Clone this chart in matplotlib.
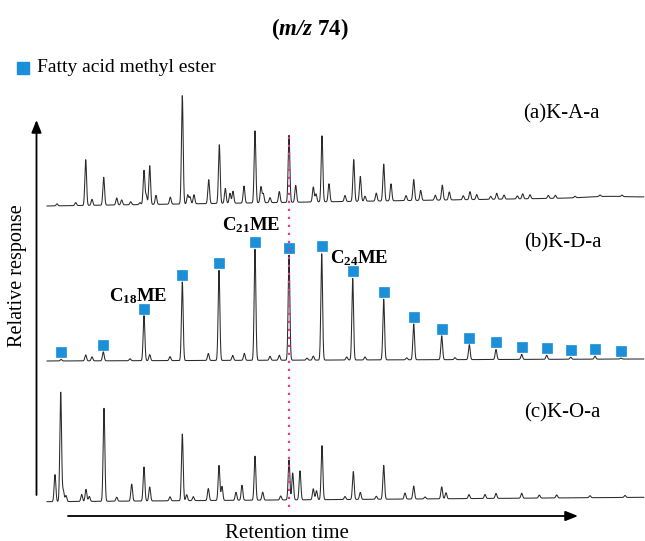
import numpy as np
import matplotlib
matplotlib.use("Agg")
import matplotlib.pyplot as plt

plt.rcParams['font.family'] = ['Liberation Serif', 'DejaVu Serif']
plt.rcParams['mathtext.fontset'] = 'custom'
plt.rcParams['mathtext.rm'] = 'Liberation Serif'
plt.rcParams['mathtext.it'] = 'Liberation Serif:italic'
plt.rcParams['mathtext.bf'] = 'Liberation Serif:bold'
plt.rcParams['mathtext.bfit'] = 'Liberation Serif:italic:bold'

# ---------------- data (retention in arbitrary units, heights in relative response) -------------
# (a) K-A-a
a_rt = [57, 75.7, 85.7, 92, 103.7, 116.7, 121.7, 130.7, 140, 144, 146.3, 149.7, 156, 170.3,
        182.3, 187.7, 190, 194, 208.7, 219.3, 225.3, 230, 233, 244, 255, 261, 263.3, 270,
        279.3, 289, 295.7, 313.3, 316, 322, 329, 345, 353.7, 360.3, 365, 376.3, 383.7, 391,
        406, 413.7, 420.7, 435.3, 442.3, 449.3, 463.3, 470, 476.7, 490.7, 496.7, 504, 517.3,
        522.7, 530, 548.3, 555.3, 575, 600, 622]
a_h = [2, 3, 46, 6, 28, 7, 5, 3, 2, 34, 9, 39, 9, 7,
       109, 9, 7, 9, 24, 59, 15, 10, 12, 17, 72, 16, 9, 5,
       11, 67, 17, 15, 8, 66, 18, 6, 42, 25, 5, 8, 37, 17,
       5, 21, 10, 5, 15, 8, 4, 8, 5, 3, 6, 4, 3,
       5, 4, 3, 3, 1.5, 1.5, 1.5]

# (b) K-D-a : fatty acid methyl esters C16 ... C34
fame_carbon = list(range(16, 35))
fame_rt = [61, 103.3, 144, 182.3, 219, 255, 289, 321.7, 352.7, 383.7, 413.7, 441.7, 469.3,
           496, 521.7, 546.7, 570.7, 595, 621]
fame_h = [1.5, 9, 45, 79, 90, 111, 105, 107, 82, 61, 36, 24, 15, 10, 5, 4, 2, 3, 1]
b_other_rt = [85.7, 92, 130, 149.7, 170, 208.3, 232.7, 244.3, 270, 279.3, 307, 313.3, 346.7,
              365, 406.7, 455]
b_other_h = [6, 4, 2, 6, 4, 7, 5, 7, 4, 5, 2, 4, 3, 3, 2, 2]

# (c) K-O-a
c_rt = [55, 60.7, 63.3, 66, 81.7, 86, 89.3, 104, 116.7, 131.7, 144, 149.7, 170, 182.3, 186.7,
        193.3, 208.3, 219, 222, 236, 242, 255, 262.7, 280.7, 289, 292.7, 300, 313.3, 316.5,
        322, 345, 353.3, 360.3, 376.3, 383.7, 405, 413.7, 425, 441.7, 446, 469, 485, 496,
        521.7, 539.3, 556.7, 590, 625]
c_h = [27, 110, 11, 6, 7, 12, 5, 93, 4, 17, 34, 14, 4, 67, 6,
       4, 12, 35, 14, 8, 15, 44, 8, 4, 40, 27, 29, 11, 9,
       54, 3, 28, 7, 3, 34, 6, 13, 2, 12, 6, 4, 4, 5,
       5, 3, 3, 2, 2]

# trace layout: baseline offset at start / end of run (drift)
rt_start, rt_end = 47, 644
offsets = {'a': (335, 344), 'b': (180, 182), 'c': (39.3, 43.7)}
labels = {'a': '(a)K-A-a', 'b': '(b)K-D-a', 'c': '(c)K-O-a'}
ref_rt = 289  # C22 ME, dotted reference line

# ---------------- figure -------------
W, H = 645, 541
fig = plt.figure(figsize=(W / 100, H / 100), dpi=100)
ax = fig.add_axes([0, 0, 1, 1])
ax.set_xlim(0, W)
ax.set_ylim(0, H)
ax.axis('off')

x = np.arange(rt_start, rt_end, 0.2)
sig = 0.85


def trace(rts, hs):
    y = np.zeros_like(x)
    for p, h in zip(rts, hs):
        y += h * np.exp(-0.5 * ((x - p) / sig) ** 2)
    return y


def base(key):
    o0, o1 = offsets[key]
    return o0 + (o1 - o0) * (x - rt_start) / (rt_end - rt_start)


line_kw = dict(color='#2a2a2a', lw=0.75)
ya = trace(a_rt, a_h) + 1.2 * np.exp(-0.5 * ((x - 605) / 18) ** 2)
ax.plot(x, base('a') + ya, **line_kw)
yb = trace(fame_rt + b_other_rt, fame_h + b_other_h)
ax.plot(x, base('b') + yb, **line_kw)
yc = trace(c_rt, c_h)
ax.plot(x, base('c') + yc, **line_kw)

# FAME markers
o0, o1 = offsets['b']
fr = np.array(fame_rt)
fb = o0 + (o1 - o0) * (fr - rt_start) / (rt_end - rt_start)
ax.plot(fr, fb + np.array(fame_h) + 7, ls='none', marker='s', ms=7.8,
        mfc='#1b8fd8', mec='#1b8fd8', mew=0.5, zorder=4)

# dotted reference line
ax.plot([ref_rt, ref_rt], [34, 405], color='#e8378c', lw=1.6, ls=(0, (1, 2.6)), zorder=5)

# compound labels
ax.text(138, 240, r'$\mathbf{C_{18}ME}$', ha='center', va='baseline', fontsize=13.5)
ax.text(251, 311, r'$\mathbf{C_{21}ME}$', ha='center', va='baseline', fontsize=13.5)
ax.text(359, 278, r'$\mathbf{C_{24}ME}$', ha='center', va='baseline', fontsize=13.5)

# sample labels
ax.text(523, 427, labels['a'], ha='left', va='center', fontsize=15)
ax.text(524, 298, labels['b'], ha='left', va='center', fontsize=15)
ax.text(524, 128, labels['c'], ha='left', va='center', fontsize=15)

# title and legend
ax.text(310, 512, r'$\mathbf{(}\mathbfit{m/z}\ \mathbf{74)}$', ha='center', va='center',
        fontsize=16.5)
ax.plot([22.5], [473], marker='s', ms=8, mfc='#1b8fd8', mec='#1b8fd8', ls='none')
ax.text(37, 473, 'Fatty acid methyl ester', ha='left', va='center', fontsize=14)

# axis arrows
arrow = dict(arrowstyle='-|>,head_length=0.75,head_width=0.3', lw=1.3, color='black',
             shrinkA=0, shrinkB=0, mutation_scale=10)
ax.annotate('', xy=(36.5, 421), xytext=(36.5, 46), arrowprops=arrow)
ax.annotate('', xy=(578, 25), xytext=(68, 25), arrowprops=arrow)
ax.text(18, 265, 'Relative response', rotation=90, ha='center', va='center', fontsize=14.5)
ax.text(287, 8, 'Retention time', ha='center', va='center', fontsize=15)

fig.savefig('out.png', dpi=100)
